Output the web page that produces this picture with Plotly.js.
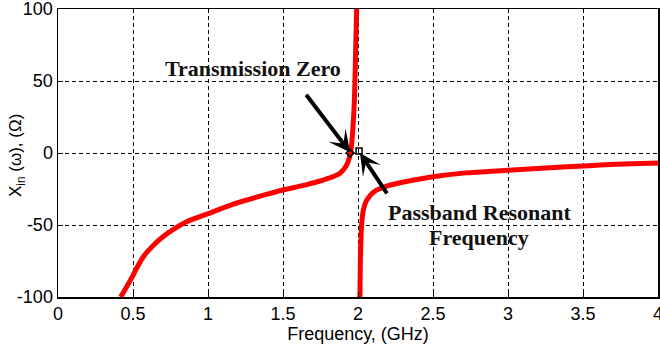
<!DOCTYPE html>
<html>
<head>
<meta charset="utf-8">
<script src="https://cdn.plot.ly/plotly-3.0.1.min.js"></script>
<style>html,body{margin:0;padding:0;background:#fff;}#chart{width:660px;height:345px;}</style>
</head>
<body>
<div id="chart"></div>
<script>
// Left branch (below transmission zero, up to the pole)
var leftFreq = [0.418, 0.458, 0.495, 0.524, 0.569, 0.636, 0.702, 0.769, 0.858, 0.991, 1.169, 1.347, 1.498, 1.658, 1.791, 1.88, 1.924, 1.947, 1.953, 1.964, 1.976, 1.982, 1.987, 1.991];
var leftX    = [-100, -92.8, -86, -80, -72, -64, -58, -53, -47.7, -42.5, -35.5, -30, -25.7, -22, -18, -14, -8.5, -1.5, 2, 14, 37, 60, 83, 100];
// Right branch (after the pole)
var rightFreq = [2.013, 2.015, 2.018, 2.024, 2.035, 2.05, 2.07, 2.09, 2.12, 2.169, 2.28, 2.5, 2.72, 3.0, 3.28, 3.51, 3.72, 4.0];
var rightX    = [-100, -80, -65, -50, -40, -34.5, -31, -28.5, -26, -23.8, -20.7, -16.5, -13.8, -12, -10.2, -9, -7.8, -6.9];
// Marked points near the zero / resonance
var markFreq = [1.947, 2.007];
var markX = [0, 1.4];
// Ticks
var xTickVals = [0, 0.5, 1, 1.5, 2, 2.5, 3, 3.5, 4];
var xTickText = ['0', '0.5', '1', '1.5', '2', '2.5', '3', '3.5', '4'];
var yTickVals = [-100, -50, 0, 50, 100];
var yTickText = ['-100', '-50', '0', '50', '100'];
// Annotation anchors
var zeroLabel = {text: 'Transmission Zero', x: 1.3, y: 59};
var zeroArrow = {x: 1.947, y: 0.5, ax: 1.647, ay: 41.5};
var passLabel1 = {text: 'Passband Resonant', x: 2.813, y: -41};
var passLabel2 = {text: 'Frequency', x: 2.807, y: -59};
var passArrow = {x: 2.013, y: 0, ax: 2.2, ay: -29};
var yTitle = 'X<sub>in</sub> (ω), (Ω)';

var lineStyle = {color: '#ff0000', width: 5, shape: 'spline', smoothing: 0.6};
var traces = [
  {x: leftFreq, y: leftX, mode: 'lines', line: lineStyle, hoverinfo: 'skip'},
  {x: rightFreq, y: rightX, mode: 'lines', line: lineStyle, hoverinfo: 'skip'},
  {x: markFreq, y: markX, mode: 'markers', marker: {symbol: ['diamond-open', 'square-open'], size: 6, color: '#000', line: {width: 1.5, color: '#000'}}, hoverinfo: 'skip'}
];

var serifFont = {family: 'Liberation Serif, Times New Roman, serif', size: 22, color: '#111', weight: 'bold'};
function arrowAnn(a) {
  return {x: a.x, y: a.y, ax: a.ax, ay: a.ay, axref: 'x', ayref: 'y', xref: 'x', yref: 'y',
    text: '', showarrow: true, arrowhead: 3, arrowsize: 0.9, arrowwidth: 4, arrowcolor: '#000', standoff: 0};
}
function textAnn(t) {
  return {x: t.x, y: t.y, xref: 'x', yref: 'y', text: '<b>' + t.text + '</b>', showarrow: false, font: serifFont};
}

var axisFont = {family: 'Liberation Sans, Arial, sans-serif', size: 18, color: '#000'};
var layout = {
  width: 660, height: 345,
  margin: {l: 58, r: 2, t: 9, b: 48, pad: 0},
  paper_bgcolor: '#fff', plot_bgcolor: '#fff',
  showlegend: false,
  font: axisFont,
  xaxis: {
    range: [0, 4], tickvals: xTickVals, ticktext: xTickText,
    showgrid: true, gridcolor: '#000', gridwidth: 1, griddash: '4px,3px',
    zeroline: false, showline: true, linecolor: '#000', linewidth: 1.5, mirror: true,
    ticks: 'inside', ticklen: 5, tickcolor: '#000', tickfont: axisFont,
    ticklabeloverflow: 'allow',
    title: {text: 'Frequency, (GHz)', font: axisFont, standoff: 0}
  },
  yaxis: {
    range: [-100, 100], tickvals: yTickVals, ticktext: yTickText,
    showgrid: true, gridcolor: '#000', gridwidth: 1, griddash: '4px,3px',
    zeroline: false, showline: true, linecolor: '#000', linewidth: 1.5, mirror: true,
    ticks: 'inside', ticklen: 5, tickcolor: '#000', tickfont: axisFont,
    ticklabeloverflow: 'allow'
  },
  annotations: [
    {x: -0.068, y: 0.49, xref: 'paper', yref: 'paper', text: yTitle, textangle: -90,
     showarrow: false, xanchor: 'center', yanchor: 'middle',
     font: {family: 'Liberation Sans, Arial, sans-serif', size: 17, color: '#000'}},
    textAnn(zeroLabel), arrowAnn(zeroArrow),
    textAnn(passLabel1), textAnn(passLabel2), arrowAnn(passArrow)
  ]
};
Plotly.newPlot('chart', traces, layout, {displayModeBar: false, staticPlot: true});
</script>
</body>
</html>
